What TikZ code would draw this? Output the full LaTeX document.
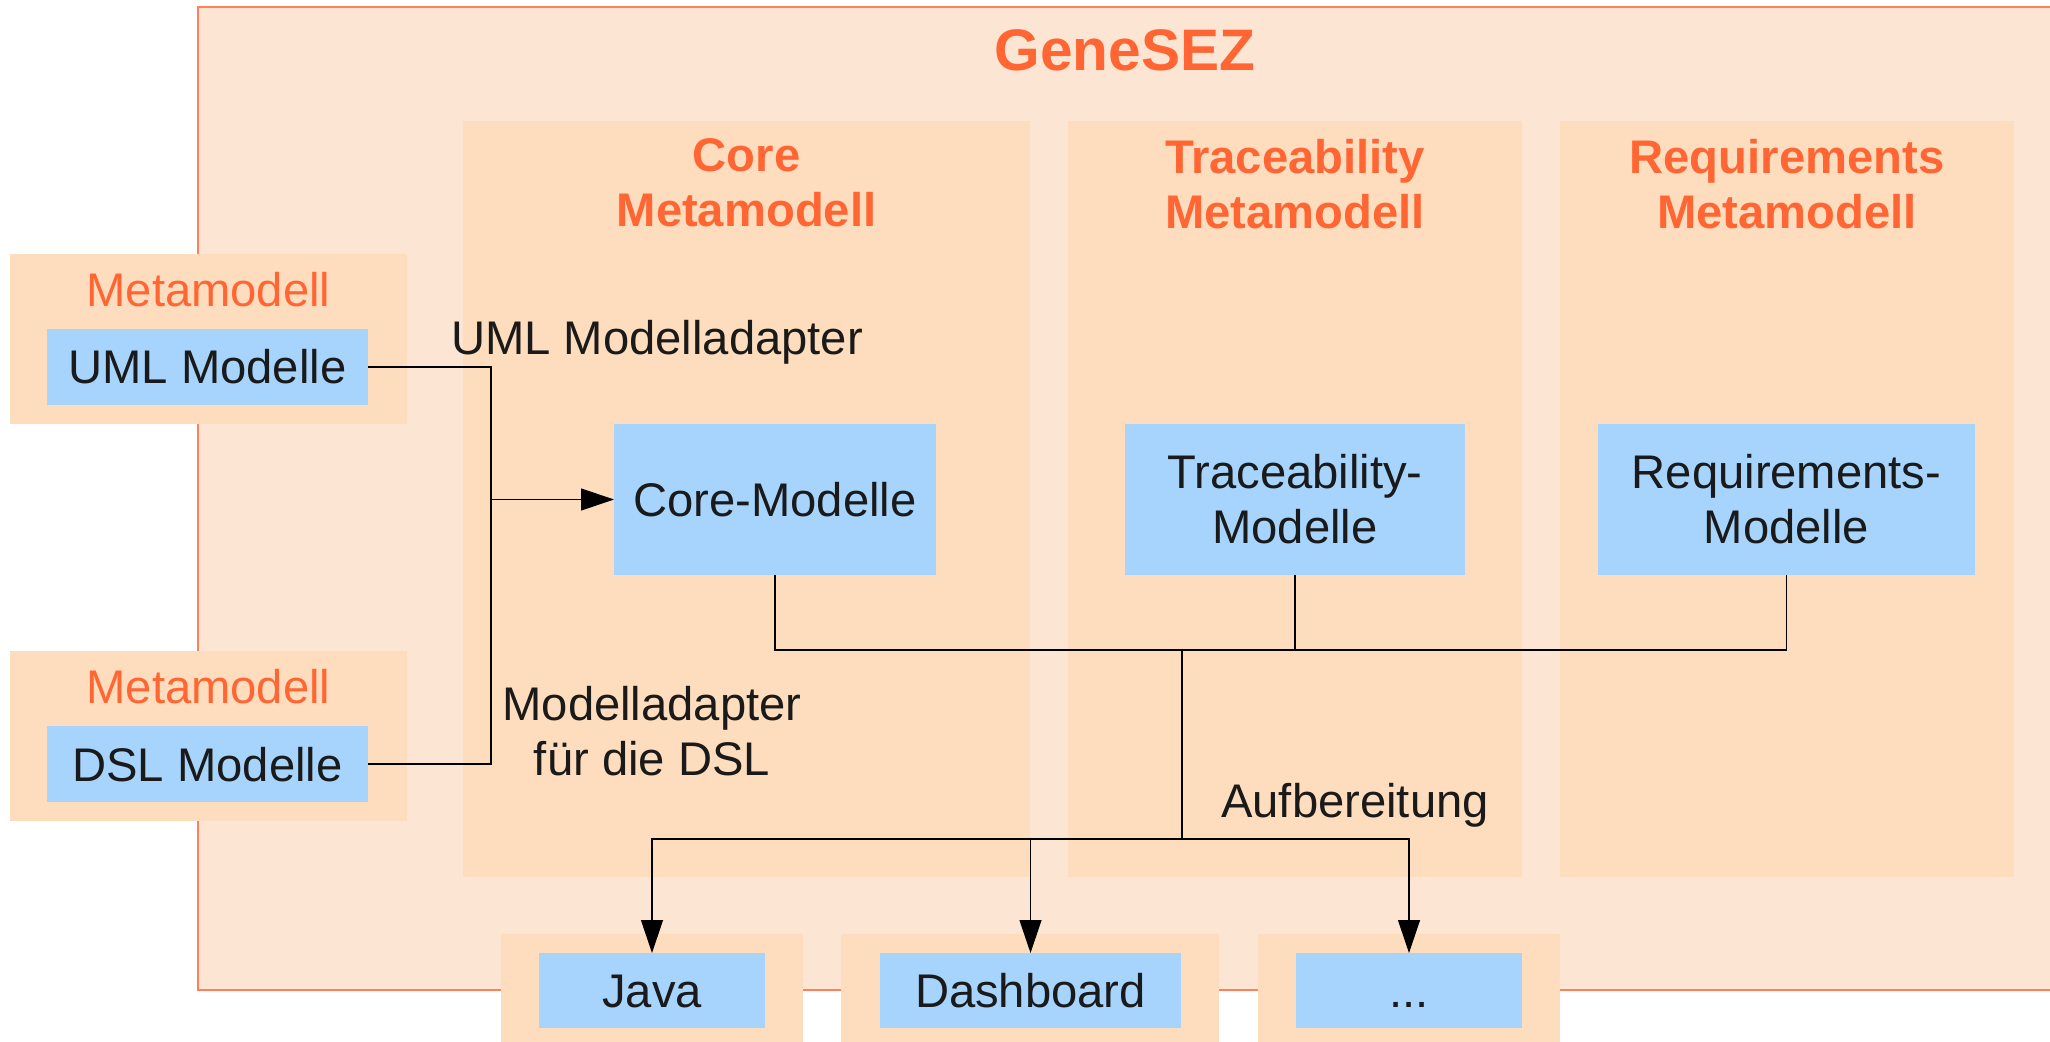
\documentclass[tikz,border=0pt]{standalone}
\usepackage{fontspec}
\setmainfont{Liberation Sans}
\usetikzlibrary{positioning,arrows.meta}
\definecolor{outerfill}{RGB}{253,229,211}
\definecolor{outerline}{RGB}{255,128,90}
\definecolor{panelfill}{RGB}{253,221,190}
\definecolor{modelfill}{RGB}{166,212,253}
\definecolor{headcolor}{RGB}{255,102,51}
\definecolor{textcolor}{RGB}{26,26,26}
\newcommand{\normaltext}{\fontsize{23.6pt}{27.5pt}\selectfont}
\begin{document}
\begin{tikzpicture}[x=0.5pt,y=-0.5pt,
	every node/.style={inner sep=0pt,outer sep=0pt,font=\normaltext,text=textcolor},
	panel/.style={rectangle,fill=panelfill,anchor=north west},
	model node/.style={rectangle,fill=modelfill,anchor=north west,align=center},
	one line/.style={text height=17pt,text depth=0pt},
	head/.style={text=headcolor,align=center,font=\bfseries\normaltext},
	link/.style={draw=black,line width=0.6pt},
	arr/.style={-{Triangle[length=16.5pt,width=11pt]}}]
	\useasboundingbox (0,0) rectangle (2050,1042);
	
	\node[rectangle,draw=outerline,fill=outerfill,line width=0.8pt,anchor=north west,minimum width=931pt,minimum height=491.5pt] (GeneSEZ) at (198,7) {};
	\node[head,font=\bfseries\fontsize{29.3pt}{34pt}\selectfont,anchor=base] (GeneSEZTitle) at (1125,71) {GeneSEZ};
	
	% Metamodelle
	\node[panel,minimum width=283.5pt,minimum height=378pt] (CoreCol) at (463,121) {};
	\node[panel,minimum width=227pt,minimum height=378pt,right=19pt of CoreCol] (TraceCol) {};
	\node[panel,minimum width=227pt,minimum height=378pt,right=19pt of TraceCol] (ReqCol) {};
	\node[head,below=9pt of CoreCol.north] (CoreTitle) {Core\\Metamodell};
	\node[head,below=9pt of TraceCol.north] (TraceTitle) {Traceability\\Metamodell};
	\node[head,below=9pt of ReqCol.north] (ReqTitle) {Requirements\\Metamodell};
	
	\node[panel,minimum width=198.5pt,minimum height=85pt] (MetaUML) at (10,254) {};
	\node[panel,minimum width=198.5pt,minimum height=85pt] (MetaDSL) at (10,651) {};
	\node[text=headcolor,below=9pt of MetaUML.north] (MetaUMLTitle) {Metamodell};
	\node[text=headcolor,below=9pt of MetaDSL.north] (MetaDSLTitle) {Metamodell};
	
	\node[panel,minimum width=151pt,minimum height=58pt] (JavaPanel) at (501,934) {};
	\node[panel,minimum width=189pt,minimum height=58pt] (DashPanel) at (841,934) {};
	\node[panel,minimum width=151pt,minimum height=58pt] (MorePanel) at (1258,934) {};
	
	% Modelle
	\node[model node,one line,minimum width=160.5pt,minimum height=38pt] (UMLModelle) at (47,329) {UML Modelle};
	\node[model node,one line,minimum width=160.5pt,minimum height=38pt] (DSLModelle) at (47,726) {DSL Modelle};
	\node[model node,one line,minimum width=161pt,minimum height=75.5pt] (CoreModelle) at (614,424) {Core-Modelle};
	\node[model node,minimum width=170pt,minimum height=75.5pt] (TraceModelle) at (1125,424) {Traceability-\\Modelle};
	\node[model node,minimum width=188.5pt,minimum height=75.5pt] (ReqModelle) at (1598,424) {Requirements-\\Modelle};
	\node[model node,one line,minimum width=113pt,minimum height=37.5pt] (Java) at (539,953) {Java};
	\node[model node,one line,minimum width=150.5pt,minimum height=37.5pt] (Dashboard) at (880,953) {Dashboard};
	\node[model node,one line,minimum width=113pt,minimum height=37.5pt] (More) at (1296,953) {...};
	
	\node[anchor=base] (UMLAdapter) at (657,355) {UML Modelladapter};
	\node[align=center] (DSLAdapter) at (652,731.5) {Modelladapter\\für die DSL};
	\node[anchor=base] (Aufbereitung) at (1355,817) {Aufbereitung};
	
	\coordinate (Join) at (491,499.5);
	\coordinate (Bus) at (1182,650);
	\coordinate (Split) at (1182,839);
	
	\draw[link] (UMLModelle.east) -| (Join) |- (DSLModelle.east);
	\draw[link,arr] (Join) -- (CoreModelle.west);
	\draw[link] (CoreModelle.south) |- (Bus)
		(TraceModelle.south) |- (Bus)
		(ReqModelle.south) |- (Bus)
		(Bus) -- (Split);
	\draw[link,arr] (Split) -| (Java.north);
	\draw[link,arr] (Split) -| (Dashboard.north);
	\draw[link,arr] (Split) -| (More.north);
\end{tikzpicture}
\end{document}
